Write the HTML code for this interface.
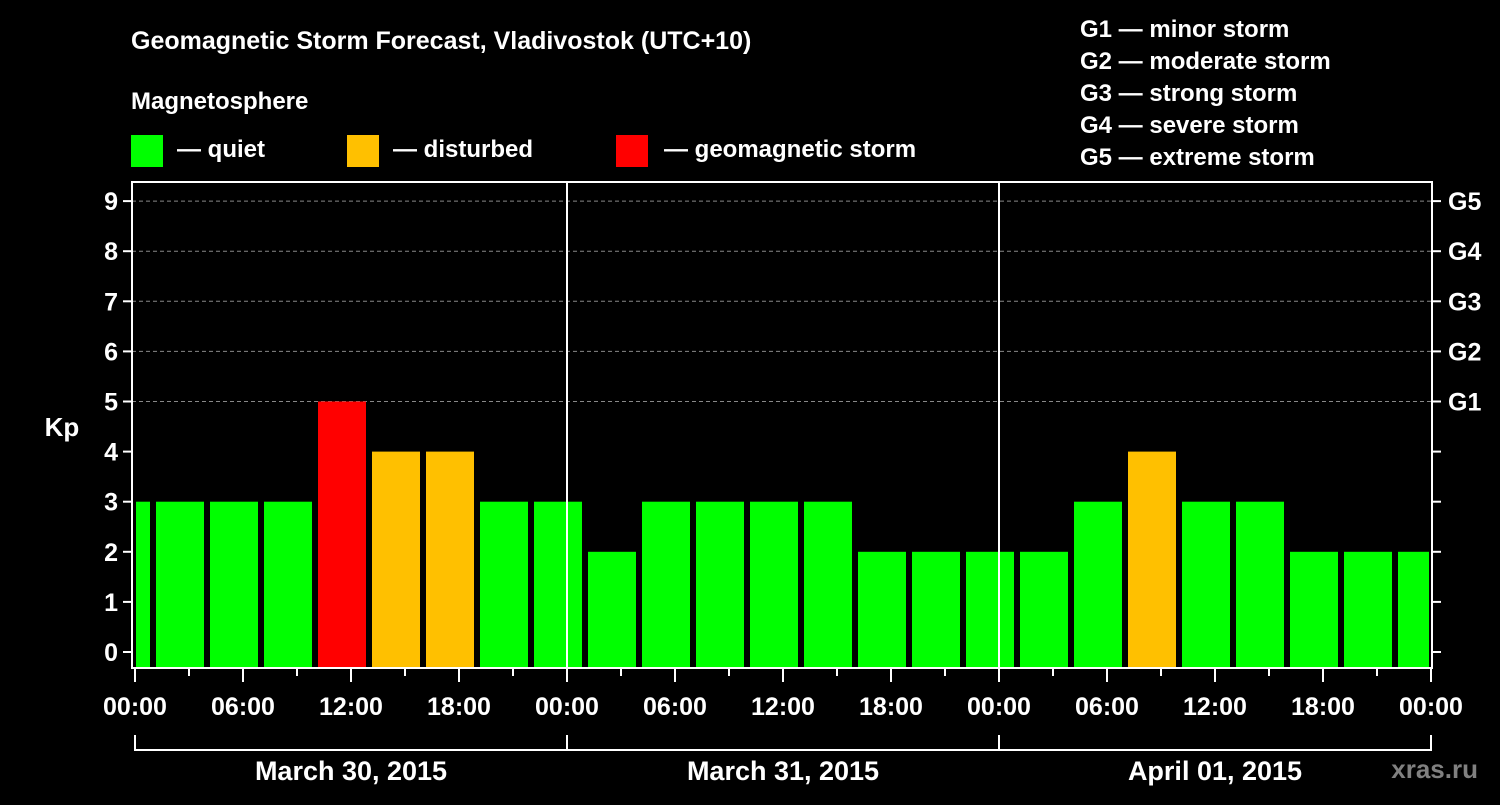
<!DOCTYPE html>
<html><head><meta charset="utf-8"><style>
body{margin:0;background:#000;width:1500px;height:800px;overflow:hidden}
svg text{font-family:"Liberation Sans",Arial,sans-serif;font-weight:bold;fill:#fff}
</style></head><body>
<svg id="c" width="1500" height="800" xmlns="http://www.w3.org/2000/svg">
<text x="131" y="49" font-size="25">Geomagnetic Storm Forecast, Vladivostok (UTC+10)</text>
<text x="131" y="109" font-size="24">Magnetosphere</text>
<rect x="131" y="135" width="32" height="32" fill="#00ff00"/>
<text x="177" y="157" font-size="24">— quiet</text>
<rect x="347" y="135" width="32" height="32" fill="#ffc000"/>
<text x="393" y="157" font-size="24">— disturbed</text>
<rect x="616" y="135" width="32" height="32" fill="#ff0000"/>
<text x="664" y="157" font-size="24">— geomagnetic storm</text>
<g font-size="24">
<text x="1080" y="37">G1 — minor storm</text>
<text x="1080" y="69">G2 — moderate storm</text>
<text x="1080" y="101">G3 — strong storm</text>
<text x="1080" y="133">G4 — severe storm</text>
<text x="1080" y="165">G5 — extreme storm</text>
</g>
<text x="62" y="436" font-size="26" text-anchor="middle">Kp</text>
<text x="1478" y="1500" font-size="26" fill="#808080" style="fill:#808080" transform="translate(0,-722)" text-anchor="end">xras.ru</text>
<g id="grid"></g><g id="bars"></g><g id="axes"></g>
</svg>
<script>
const values=[3,3,3,3,5,4,4,3,3,2,3,3,3,3,2,2,2,2,3,4,3,3,2,2,2];
const yTicks=[0,1,2,3,4,5,6,7,8,9];
const gLabels=["G1","G2","G3","G4","G5"];
const xLabels=["00:00","06:00","12:00","18:00","00:00","06:00","12:00","18:00","00:00","06:00","12:00","18:00","00:00"];
const days=["March 30, 2015","March 31, 2015","April 01, 2015"];
const NS="http://www.w3.org/2000/svg";
const L=132,R=1432,T=182,B=668;
const x=h=>135+h*(1431-135)/72;
const y=v=>652-v*50.1;
function mk(p,t,a){const e=document.createElementNS(NS,t);for(const k in a)e.setAttribute(k,a[k]);p.appendChild(e);return e;}
const grid=document.getElementById('grid'),bars=document.getElementById('bars'),axes=document.getElementById('axes');
yTicks.forEach(v=>{
 if(v>=5){const l=mk(grid,'line',{x1:L,x2:R,y1:y(v),y2:y(v),stroke:'#888','stroke-dasharray':'4 3','stroke-width':1});
 
 }
 const t=mk(axes,'line',{x1:L-9,x2:L,y1:y(v),y2:y(v),stroke:'#fff','stroke-width':2});
 
 
 const t2=mk(axes,'line',{x1:R,x2:R+9,y1:y(v),y2:y(v),stroke:'#fff','stroke-width':2});
 
 
 const tx=mk(axes,'text',{x:L-14,y:y(v)+9,'font-size':25,'text-anchor':'end'});tx.textContent=v;
 
 
});
gLabels.forEach((g,i)=>{const tx=mk(axes,'text',{x:R+16,y:y(5+i)+9,'font-size':25});tx.textContent=g;
 
 });
values.forEach((v,i)=>{
 const c=-0.5+3*i;let x0=x(c)-24,x1=x(c)+24;x0=Math.max(x0,136);x1=Math.min(x1,1429);
 const col=v>=5?'#ff0000':(v>=4?'#ffc000':'#00ff00');
 const r=mk(bars,'rect',{x:x0,y:y(v),width:x1-x0,height:B-1-y(v),fill:col});
 
 
});
[24,48].forEach(h=>{const l=mk(axes,'line',{x1:x(h),x2:x(h),y1:T,y2:B,stroke:'#fff','stroke-width':2});
 
 });
const f=mk(axes,'rect',{x:L,y:T,width:R-L,height:B-T,fill:'none',stroke:'#fff','stroke-width':2});


for(let h=0;h<=72;h+=3){const l=mk(axes,'line',{x1:x(h),x2:x(h),y1:B,y2:B+(h%6==0?14:8),stroke:'#fff','stroke-width':2});
 
 }
xLabels.forEach((s,i)=>{const t=mk(axes,'text',{x:x(i*6),y:715,'font-size':25,'text-anchor':'middle'});t.textContent=s;
 
 });
days.forEach((d,i)=>{
 const a=x(i*24),b=x(i*24+24);
 const p=mk(axes,'path',{d:`M${a} 735V750H${b}V735`,fill:'none',stroke:'#fff','stroke-width':2});
 
 
 const t=mk(axes,'text',{x:(a+b)/2,y:780,'font-size':27,'text-anchor':'middle'});t.textContent=d;
 
 
});
</script>
</body></html>
